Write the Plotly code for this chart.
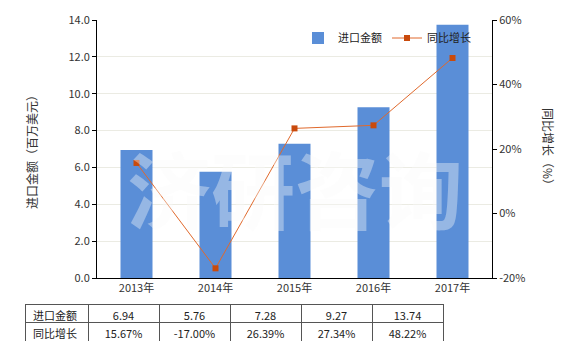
import plotly.graph_objects as go

# Annual import value (million USD) and year-on-year growth (%)
years = ["2013年", "2014年", "2015年", "2016年", "2017年"]
import_value = [6.94, 5.76, 7.28, 9.27, 13.74]
yoy_growth = [15.67, -17.00, 26.39, 27.34, 48.22]

left_ticks = [0, 2, 4, 6, 8, 10, 12, 14]
right_ticks = [-20, 0, 20, 40, 60]

W, H = 580, 350
FONT = "Noto Sans CJK SC, Microsoft YaHei, sans-serif"
BAR_COLOR = "#5a8ed7"
LINE_COLOR = "#e0692c"
MARKER_COLOR = "#c94a0c"


def px_x(p):
    return p / W


def px_y(p):
    return 1 - p / H


fig = go.Figure()

fig.add_trace(go.Bar(
    x=years, y=import_value, name="进口金额",
    marker=dict(color=BAR_COLOR, line=dict(width=0)),
    yaxis="y",
))

fig.add_trace(go.Scatter(
    x=years, y=yoy_growth, name="同比增长",
    mode="lines+markers",
    line=dict(color=LINE_COLOR, width=1),
    marker=dict(symbol="square", size=6, color=MARKER_COLOR),
    yaxis="y2",
))

# Data table beneath the chart
fig.add_trace(go.Table(
    domain=dict(x=[px_x(25), px_x(443)], y=[px_y(342), px_y(304)]),
    columnwidth=[63, 71, 71, 71, 71, 71],
    header=dict(
        values=["进口金额"] + [f"{v:.2f}" for v in import_value],
        align=["left"] + ["center"] * len(years),
        height=18,
        fill=dict(color="white"),
        line=dict(color="#555555", width=1),
        font=dict(family=FONT, size=11, color="#222222"),
    ),
    cells=dict(
        values=[["同比增长"]] + [[f"{v:.2f}%"] for v in yoy_growth],
        align=["left"] + ["center"] * len(years),
        height=19,
        fill=dict(color="white"),
        line=dict(color="#555555", width=1),
        font=dict(family=FONT, size=11, color="#222222"),
    ),
))

tick_font = dict(family=FONT, size=11, color="#333333")

fig.update_layout(
    width=W, height=H,
    margin=dict(l=0, r=0, t=0, b=0, autoexpand=False),
    paper_bgcolor="white",
    plot_bgcolor="white",
    font=dict(family=FONT, size=11, color="#333333"),
    bargap=0.595,
    showlegend=True,
    legend=dict(
        orientation="h",
        x=px_x(298), y=px_y(38), xanchor="left", yanchor="middle",
        font=dict(family=FONT, size=11, color="#222222"),
        bgcolor="rgba(0,0,0,0)",
        itemwidth=30,
    ),
    xaxis=dict(
        domain=[px_x(97), px_x(492)],
        type="category",
        showline=True, linecolor="#000000", linewidth=1,
        ticks="", showgrid=False,
        tickfont=tick_font,
        anchor="y",
        automargin=False,
    ),
    yaxis=dict(
        domain=[px_y(278), px_y(20)],
        range=[0, 14],
        tickvals=left_ticks,
        ticktext=[f"{v:.1f}" for v in left_ticks],
        showline=True, linecolor="#000000", linewidth=1,
        ticks="outside", ticklen=4, tickcolor="#000000",
        showgrid=True, gridcolor="#ebebe3", gridwidth=1,
        zeroline=False,
        tickfont=tick_font,
        automargin=False,
    ),
    yaxis2=dict(
        overlaying="y", side="right", anchor="x",
        range=[-20, 60],
        tickvals=right_ticks,
        ticktext=[f"{v}%" for v in right_ticks],
        showline=True, linecolor="#000000", linewidth=1,
        ticks="outside", ticklen=4, tickcolor="#000000",
        showgrid=False, zeroline=False,
        tickfont=tick_font,
        automargin=False,
    ),
    annotations=[
        dict(text="进口金额（百万美元）", textangle=-90,
             x=px_x(31), y=px_y(149), xref="paper", yref="paper",
             xanchor="center", yanchor="middle",
             showarrow=False, font=dict(family=FONT, size=12, color="#333333")),
        dict(text="同比增长（%）", textangle=90,
             x=px_x(549), y=px_y(149), xref="paper", yref="paper",
             xanchor="center", yanchor="middle",
             showarrow=False, font=dict(family=FONT, size=12, color="#333333")),
        dict(text="济研咨询",
             x=px_x(295), y=px_y(186), xref="paper", yref="paper",
             xanchor="center", yanchor="middle",
             showarrow=False,
             font=dict(family=FONT, size=84, color="rgba(250,250,250,0.38)", weight="bold")),
    ],
)

fig.write_html("out.html")
